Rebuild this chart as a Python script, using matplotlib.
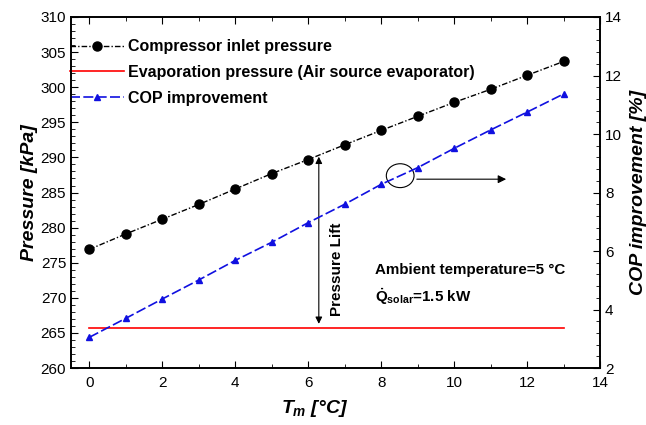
import matplotlib
matplotlib.use('Agg')
import matplotlib.pyplot as plt
from matplotlib.ticker import MultipleLocator
from matplotlib.patches import Ellipse

plt.rcParams['font.family'] = ['Liberation Sans', 'DejaVu Sans']
plt.rcParams['mathtext.fontset'] = 'custom'
plt.rcParams['mathtext.rm'] = 'Liberation Sans:bold'
plt.rcParams['mathtext.bf'] = 'Liberation Sans:bold'
plt.rcParams['mathtext.it'] = 'Liberation Sans:bold:italic'

# datos
tm = [0, 1, 2, 3, 4, 5, 6, 7, 8, 9, 10, 11, 12, 13]
p_inlet = [276.9, 279.1, 281.2, 283.3, 285.5, 287.7, 289.7, 291.8,
           293.85, 295.85, 297.84, 299.7, 301.7, 303.67]
p_evap = [265.65] * len(tm)
cop_impr = [3.05, 3.70, 4.36, 5.01, 5.68, 6.30, 6.97, 7.60,
            8.28, 8.85, 9.51, 10.14, 10.75, 11.37]

fig = plt.figure(figsize=(6.46, 4.25), dpi=100)
ax = fig.add_axes([0.110, 0.134, 0.819, 0.826])
ax2 = ax.twinx()

l1, = ax.plot(tm, p_inlet, color='black', lw=1.0, ls=(0, (4, 1.5, 1, 1.5)),
              marker='o', ms=6.5, label='Compressor inlet pressure')
l2, = ax.plot(tm, p_evap, color='red', lw=1.2,
              label='Evaporation pressure (Air source evaporator)')
l3, = ax2.plot(tm, cop_impr, color='#1010e0', lw=1.2, ls=(0, (6, 2)),
               marker='^', ms=5, label='COP improvement')

ax.set_xlim(-0.5, 14)
ax.set_ylim(260, 310)
ax2.set_ylim(2, 14)

ax.xaxis.set_major_locator(MultipleLocator(2))
ax.xaxis.set_minor_locator(MultipleLocator(1))
ax.yaxis.set_major_locator(MultipleLocator(5))
ax.yaxis.set_minor_locator(MultipleLocator(1))
ax2.yaxis.set_major_locator(MultipleLocator(2))
ax2.yaxis.set_minor_locator(MultipleLocator(0.4))

ax.tick_params(which='both', direction='in', top=True, labelsize=11)
ax.tick_params(which='major', length=5)
ax.tick_params(which='minor', length=3)
ax.tick_params(axis='x', pad=6)
ax2.tick_params(which='both', direction='in', labelsize=11)
ax2.tick_params(which='major', length=5)
ax2.tick_params(which='minor', length=3)
for a in (ax, ax2):
    for s in a.spines.values():
        s.set_linewidth(1.2)

ax.set_xlabel(r'$T_m$ [°C]', fontsize=14, fontweight='bold', style='italic')
ax.xaxis.set_label_coords(0.46, -0.085)
ax.set_ylabel('Pressure [kPa]', fontsize=14, fontweight='bold', style='italic', labelpad=2)
ax2.set_ylabel('COP improvement [%]', fontsize=14, fontweight='bold', style='italic', labelpad=6)

leg = ax.legend(handles=[l1, l2, l3], loc='upper left', frameon=False,
                prop={'weight': 'bold', 'size': 11.5}, handlelength=3.4,
                handletextpad=0.2, borderaxespad=0.0, borderpad=0.0,
                labelspacing=0.68, bbox_to_anchor=(-0.002, 0.937))

# flecha de pressure lift
ax.annotate('', xy=(6.29, 265.9), xytext=(6.29, 290.5),
            arrowprops=dict(arrowstyle='<|-|>', color='black', lw=0.8,
                            mutation_scale=10))
ax.text(6.8, 274, 'Pressure Lift', rotation=90, ha='center', va='center',
        fontsize=11, fontweight='bold')

# elipse y flecha hacia el eje derecho
ax.add_patch(Ellipse((8.52, 287.4), 0.76, 3.4, fill=False, color='black', lw=0.8))
ax.annotate('', xy=(11.5, 286.9), xytext=(8.9, 286.9),
            arrowprops=dict(arrowstyle='-|>', color='black', lw=0.8,
                            mutation_scale=12))

ax.text(7.84, 274.0, 'Ambient temperature=5 °C', fontsize=10.9,
        fontweight='bold', va='center')
ax.text(7.84, 270.2, r'$\dot{\mathrm{Q}}_{\mathrm{solar}}$=1.5 kW', fontsize=10.9,
        fontweight='bold', va='center')

fig.savefig('out.png', dpi=100)
